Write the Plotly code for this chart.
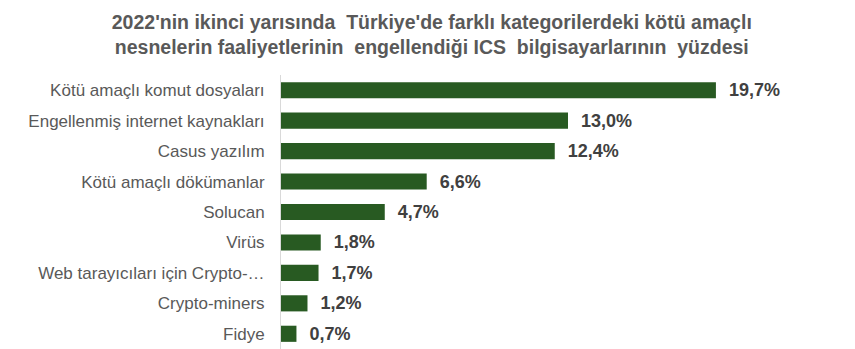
import plotly.graph_objects as go

categories = [
    "Kötü amaçlı komut dosyaları",
    "Engellenmiş internet kaynakları",
    "Casus yazılım",
    "Kötü amaçlı dökümanlar",
    "Solucan",
    "Virüs",
    "Web tarayıcıları için Crypto-…",
    "Crypto-miners",
    "Fidye",
]
values = [19.7, 13.0, 12.4, 6.6, 4.7, 1.8, 1.7, 1.2, 0.7]
labels = ["  " + f"{v:.1f}%".replace(".", ",") for v in values]

fig = go.Figure(
    go.Bar(
        y=categories,
        x=values,
        orientation="h",
        marker=dict(color="#285A22", line=dict(width=0)),
        text=labels,
        textposition="outside",
        constraintext="none",
        textfont=dict(family="Liberation Sans, Arial", size=18, color="#404040", weight="bold"),
        cliponaxis=False,
        width=0.53,
    )
)

fig.update_layout(
    width=855,
    height=349,
    margin=dict(l=281, r=0, t=75, b=0),
    paper_bgcolor="white",
    plot_bgcolor="white",
    showlegend=False,
    title=dict(
        text="2022'nin ikinci yarısında  Türkiye'de farklı kategorilerdeki kötü amaçlı<br>nesnelerin faaliyetlerinin  engellendiği ICS  bilgisayarlarının  yüzdesi",
        x=0.505,
        xanchor="center",
        y=0.918,
        yanchor="top",
        font=dict(family="Liberation Sans, Arial", size=19.5, color="#595959", weight="bold"),
    ),
    xaxis=dict(range=[0, 26], visible=False, fixedrange=True),
    yaxis=dict(
        autorange="reversed",
        showline=True,
        linecolor="#D9D9D9",
        linewidth=1,
        ticks="",
        showgrid=False,
        tickfont=dict(family="Liberation Sans, Arial", size=17, color="#595959"),
        ticklabelstandoff=12,
    ),
)

fig.write_html("out.html")
